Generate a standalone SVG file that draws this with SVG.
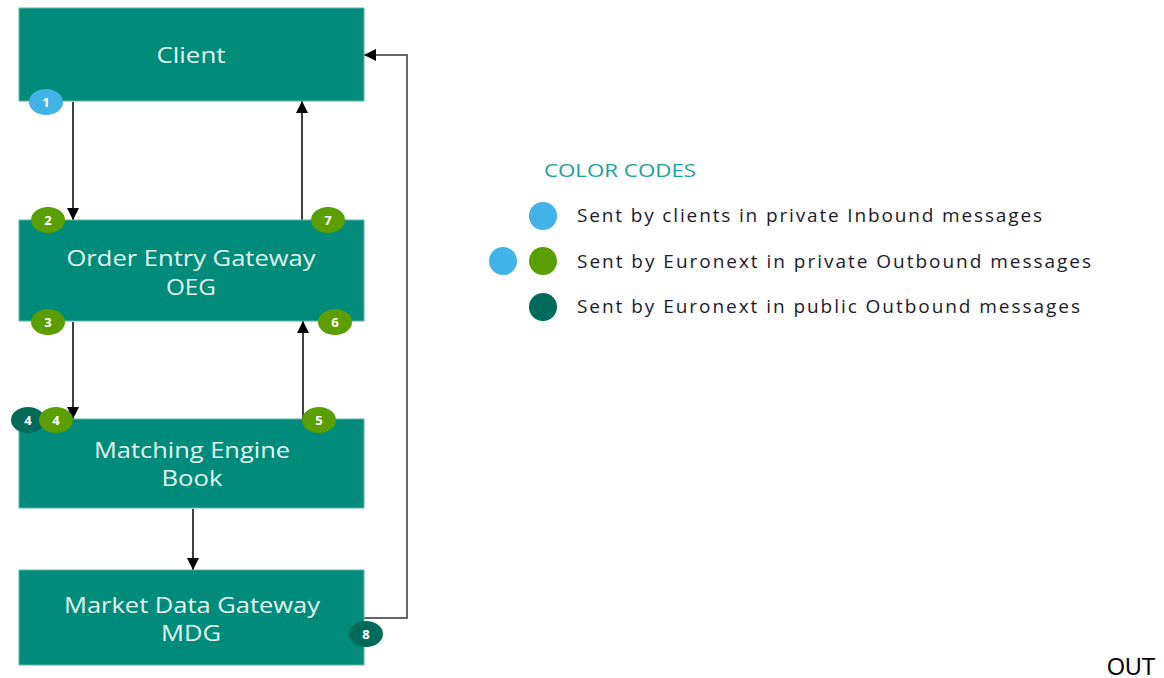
<svg xmlns="http://www.w3.org/2000/svg" width="1164" height="678" viewBox="0 0 1164 678">
<style>
.box{fill:#008B7A;stroke:#5fb5aa;stroke-width:1}
.bt{font-family:"Open Sans","Noto Sans",sans-serif;font-size:22px;fill:#e4f4f1;text-anchor:middle}
.bd{font-family:"Open Sans","Noto Sans",sans-serif;font-size:13px;font-weight:bold;fill:#ffffff;text-anchor:middle}
.blue{fill:#41B3E6}.green{fill:#5A9E00}.dark{fill:#006A5B}
.ln{stroke:#000;stroke-width:1.5;fill:none}
.lg{font-family:"Open Sans","Noto Sans",sans-serif;font-size:19px;fill:#1a1a2a}
</style>
<defs>
<marker id="ah2" viewBox="0 0 10 10" refX="10" refY="5" markerWidth="12" markerHeight="12" markerUnits="userSpaceOnUse" orient="auto"><path d="M0,0 L10,5 L0,10 z" fill="#000"/></marker>
</defs>
<g id="connectors">
<line class="ln" x1="73" y1="102" x2="73" y2="220" marker-end="url(#ah2)"/>
<line class="ln" x1="302" y1="220" x2="302" y2="101" marker-end="url(#ah2)"/>
<line class="ln" x1="73" y1="322" x2="73" y2="419" marker-end="url(#ah2)"/>
<line class="ln" x1="303" y1="419" x2="303" y2="321" marker-end="url(#ah2)"/>
<line class="ln" x1="193" y1="509" x2="193" y2="570" marker-end="url(#ah2)"/>
<polyline points="364,618 407,618 407,55 364,55" fill="none" stroke="#666" stroke-width="2" marker-end="url(#ah2)"/>
</g>
<g id="client">
<rect class="box" x="19" y="8" width="345" height="93"/>
<text class="bt" x="191" y="63" textLength="69" lengthAdjust="spacingAndGlyphs">Client</text>
</g>
<g id="oeg">
<rect class="box" x="19" y="220" width="345" height="101"/>
<text class="bt" x="191" y="266" textLength="249" lengthAdjust="spacingAndGlyphs">Order Entry Gateway</text>
<text class="bt" x="191" y="295" textLength="50" lengthAdjust="spacingAndGlyphs">OEG</text>
</g>
<g id="me">
<rect class="box" x="19" y="419" width="345" height="89"/>
<text class="bt" x="192" y="458" textLength="196" lengthAdjust="spacingAndGlyphs">Matching Engine</text>
<text class="bt" x="192" y="486" textLength="61" lengthAdjust="spacingAndGlyphs">Book</text>
</g>
<g id="mdg">
<rect class="box" x="19" y="570" width="345" height="95"/>
<text class="bt" x="192" y="613" textLength="256" lengthAdjust="spacingAndGlyphs">Market Data Gateway</text>
<text class="bt" x="191" y="641" textLength="60" lengthAdjust="spacingAndGlyphs">MDG</text>
</g>
<g id="badges">
<ellipse class="blue" cx="46" cy="102" rx="17" ry="13"/><text class="bd" x="46" y="107">1</text>
<ellipse class="green" cx="48" cy="220" rx="17" ry="13"/><text class="bd" x="48" y="225">2</text>
<ellipse class="green" cx="328" cy="220" rx="17" ry="13"/><text class="bd" x="328" y="225">7</text>
<ellipse class="green" cx="48" cy="322" rx="17" ry="13"/><text class="bd" x="48" y="327">3</text>
<ellipse class="green" cx="335" cy="322" rx="17" ry="13"/><text class="bd" x="335" y="327">6</text>
<ellipse class="dark" cx="28" cy="420" rx="17" ry="13"/><text class="bd" x="28" y="425">4</text>
<ellipse class="green" cx="56" cy="420" rx="17" ry="13"/><text class="bd" x="56" y="425">4</text>
<ellipse class="green" cx="319" cy="420" rx="17" ry="13"/><text class="bd" x="319" y="425">5</text>
<ellipse class="dark" cx="366" cy="634" rx="17" ry="13"/><text class="bd" x="366" y="639">8</text>
</g>
<g id="legend">
<text x="544" y="177" font-family="'Open Sans','Noto Sans',sans-serif" font-size="19" fill="#1aa396" textLength="152" lengthAdjust="spacingAndGlyphs">COLOR CODES</text>
<circle class="blue" cx="543" cy="216" r="14"/>
<text class="lg" x="577" y="222" textLength="465" lengthAdjust="spacing">Sent by clients in private Inbound messages</text>
<circle class="blue" cx="503" cy="261" r="14"/>
<circle class="green" cx="543" cy="261" r="14"/>
<text class="lg" x="577" y="268" textLength="514" lengthAdjust="spacing">Sent by Euronext in private Outbound messages</text>
<circle class="dark" cx="543" cy="307" r="14"/>
<text class="lg" x="577" y="313" textLength="503" lengthAdjust="spacing">Sent by Euronext in public Outbound messages</text>
</g>
<text x="1107" y="675" font-family="'Liberation Sans',Arial,sans-serif" font-size="23" fill="#000">OUT</text>
</svg>
